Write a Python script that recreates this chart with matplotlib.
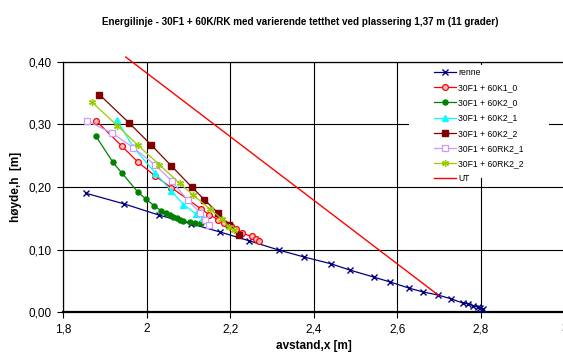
import matplotlib
matplotlib.use("Agg")
import matplotlib.pyplot as plt
from matplotlib.ticker import FuncFormatter, MultipleLocator
from matplotlib.patches import Rectangle

plt.rcParams['font.family'] = ['Liberation Sans', 'DejaVu Sans']

# ---- data ----
renne_x = [1.855, 1.946, 2.030, 2.107, 2.176, 2.245, 2.317, 2.377, 2.442, 2.487, 2.543,
           2.583, 2.629, 2.662, 2.698, 2.729, 2.758, 2.770, 2.782, 2.792, 2.799, 2.806]
renne_y = [0.190, 0.173, 0.155, 0.141, 0.128, 0.114, 0.099, 0.088, 0.077, 0.067, 0.056,
           0.048, 0.038, 0.032, 0.027, 0.021, 0.014, 0.013, 0.010, 0.008, 0.006, 0.005]

k1_0_x = [1.879, 1.940, 1.979, 2.020, 2.059, 2.099, 2.130, 2.150, 2.170, 2.186, 2.202,
          2.214, 2.228, 2.252, 2.262, 2.270]
k1_0_y = [0.306, 0.266, 0.240, 0.218, 0.199, 0.180, 0.165, 0.156, 0.148, 0.142, 0.137,
          0.133, 0.126, 0.121, 0.117, 0.114]

k2_0_x = [1.878, 1.919, 1.940, 1.979, 1.998, 2.018, 2.035, 2.047, 2.055, 2.064, 2.073,
          2.080, 2.088, 2.103, 2.116, 2.130]
k2_0_y = [0.282, 0.240, 0.223, 0.192, 0.181, 0.170, 0.162, 0.158, 0.155, 0.152, 0.150,
          0.148, 0.145, 0.144, 0.143, 0.142]

k2_1_x = [1.929, 1.968, 2.020, 2.059, 2.088, 2.118, 2.135]
k2_1_y = [0.307, 0.264, 0.223, 0.194, 0.172, 0.157, 0.150]

k2_2_x = [1.887, 1.959, 2.010, 2.059, 2.108, 2.138, 2.170, 2.198, 2.220]
k2_2_y = [0.348, 0.302, 0.268, 0.234, 0.200, 0.180, 0.159, 0.139, 0.124]

rk2_1_x = [1.857, 1.918, 1.968, 2.019, 2.060, 2.098, 2.129, 2.139, 2.150]
rk2_1_y = [0.306, 0.286, 0.263, 0.236, 0.210, 0.179, 0.158, 0.148, 0.139]

rk2_2_x = [1.869, 1.930, 1.979, 2.030, 2.079, 2.110, 2.151, 2.180, 2.198, 2.208]
rk2_2_y = [0.336, 0.298, 0.267, 0.236, 0.206, 0.188, 0.165, 0.149, 0.136, 0.131]

ut_x = [1.950, 2.698]
ut_y = [0.408, 0.027]

labels = ["renne", "30F1 + 60K1_0", "30F1 + 60K2_0", "30F1 + 60K2_1", "30F1 + 60K2_2",
          "30F1 + 60RK2_1", "30F1 + 60RK2_2", "UT"]

title = "Energilinje - 30F1 + 60K/RK med varierende tetthet ved plassering 1,37 m (11 grader)"

# ---- figure ----
W, H = 563, 356
fig = plt.figure(figsize=(W / 100, H / 100), dpi=100)
L, R, T, B = 63, 564.5, 62, 312
ax = fig.add_axes([L / W, 1 - B / H, (R - L) / W, (B - T) / H])

ax.set_xlim(1.8, 3.0)
ax.set_ylim(0.0, 0.40)
ax.xaxis.set_major_locator(MultipleLocator(0.2))
ax.yaxis.set_major_locator(MultipleLocator(0.1))
ax.xaxis.set_major_formatter(FuncFormatter(lambda v, p: f"{v:g}".replace('.', ',')))
ax.yaxis.set_major_formatter(FuncFormatter(lambda v, p: f"{v:.2f}".replace('.', ',')))
ax.grid(True, color='black', linewidth=0.8)
ax.set_axisbelow(True)
ax.tick_params(axis='both', labelsize=8.5, direction='out', length=4, width=0.8, color='black')
ax.tick_params(axis='y', pad=4)
ax.tick_params(axis='x', pad=4)
for s in ['left', 'top', 'right']:
    ax.spines[s].set_linewidth(0.9)
ax.spines['bottom'].set_linewidth(1.6)

lw = 0.9
ax.plot(renne_x, renne_y, color='#000080', lw=lw, marker='x', ms=4.5, mew=1.0, label=labels[0], zorder=3)
ax.plot(k1_0_x, k1_0_y, color='#FF0000', lw=lw, marker='o', ms=4.2, mfc='#FFC0C0', mec='#FF0000', mew=0.9, label=labels[1], zorder=3)
ax.plot(k2_0_x, k2_0_y, color='#008000', lw=lw, marker='o', ms=3.6, mfc='#008000', mec='#008000', label=labels[2], zorder=3)
ax.plot(k2_1_x, k2_1_y, color='#00FFFF', lw=lw, marker='^', ms=5, mfc='#00FFFF', mec='#00FFFF', label=labels[3], zorder=3)
ax.plot(k2_2_x, k2_2_y, color='#800000', lw=lw, marker='s', ms=4.5, mfc='#800000', mec='#800000', label=labels[4], zorder=3)
ax.plot(rk2_1_x, rk2_1_y, color='#CC99FF', lw=lw, marker='s', ms=4.5, mfc='white', mec='#CC99FF', mew=0.9, label=labels[5], zorder=3)
ax.plot(rk2_2_x, rk2_2_y, color='#99CC00', lw=lw, marker=(6, 2, 0), ms=5, mec='#99CC00', mew=1.0, label=labels[6], zorder=3)
ax.plot(ut_x, ut_y, color='#FF0000', lw=1.0, label=labels[7], clip_on=False, zorder=3)

# legend background (white, no border) covering gridlines
lx0, lx1, ly0, ly1 = 409, 549, 65, 178
ax.add_patch(Rectangle(((lx0 - L) / (R - L), (B - ly1) / (B - T)), (lx1 - lx0) / (R - L), (ly1 - ly0) / (B - T),
                       transform=ax.transAxes, facecolor='white', edgecolor='none', zorder=1))
leg = ax.legend(loc='upper left', bbox_to_anchor=((434 - L) / (R - L), (B - 68) / (B - T)),
                frameon=False, fontsize=6.2, borderpad=0, borderaxespad=0, handlelength=2.5,
                handletextpad=0.3, labelspacing=0.72, numpoints=1)

fig.text(300 / W, 1 - 22 / H, title, ha='center', va='center', fontsize=7.1, fontweight='bold')
fig.text(313.7 / W, 1 - 346 / H, "avstand,x [m]", ha='center', va='center', fontsize=8.5, fontweight='bold')
fig.text(16 / W, 1 - 187 / H, "høyde,h  [m]", ha='center', va='center', rotation=90, fontsize=8.5, fontweight='bold')

fig.savefig("out.png", dpi=100)
